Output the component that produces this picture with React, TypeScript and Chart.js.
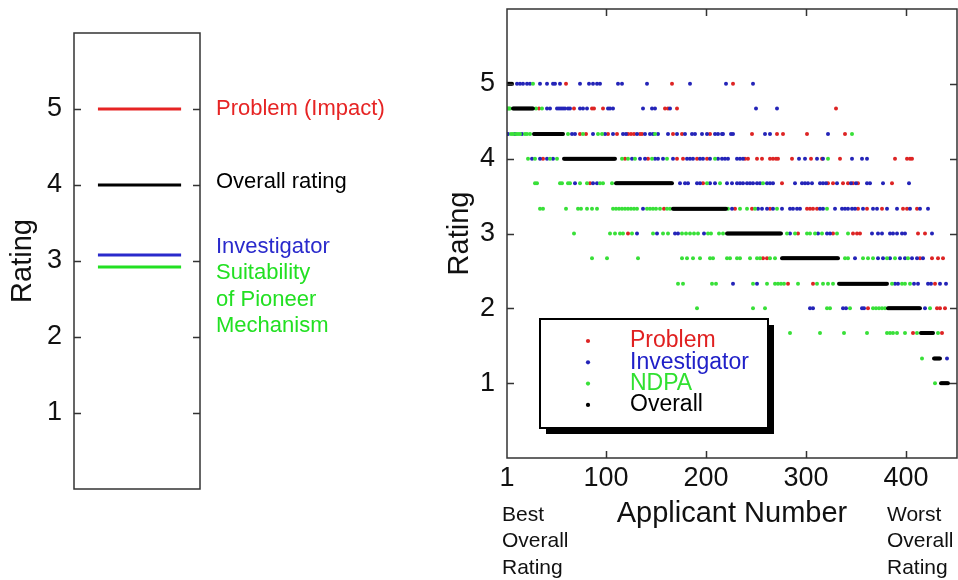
import React, { useEffect, useRef } from "react";
import { Chart, registerables } from "chart.js";

Chart.register(...registerables);

const FONT = "'Liberation Sans', Arial, Helvetica, sans-serif";

// ---------- Left panel: mean ratings ----------
const meanTextLines: string[][] = [
  ["Problem (Impact)"],
  ["Overall rating"],
  ["Investigator"],
  ["Suitability", "of Pioneer", "Mechanism"],
];
const meanRatings = [5, 4, 3.08, 2.92];
const meanColors = ["#e62424", "#000000", "#2a2acc", "#22e022"];
const meanLineStart = 0.19;
const meanLineEnd = 0.85;

// ---------- Right panel: ratings per applicant ----------
const yTicks = [1, 2, 3, 4, 5];
const xTicks = [1, 100, 200, 300, 400];
const ratingLevels = [5, 4.67, 4.33, 4, 3.67, 3.33, 3, 2.67, 2.33, 2, 1.67, 1.33, 1];
const seriesNames = ["Problem", "Investigator", "NDPA", "Overall"];
const seriesColors = ["#dd2424", "#2424b8", "#38e038", "#000000"];
const legendTextColors = ["#e02020", "#2020c8", "#30e030", "#000000"];

// number of applicants at each overall rating level (applicants sorted best to worst)
const overallCounts = [6, 21, 30, 52, 57, 54, 55, 57, 49, 33, 13, 7, 8];

// applicant numbers with a visible dot, per rating level (aligned with ratingLevels)
const problemApplicants: number[][] = [
  [60, 166, 227],
  [33, 68, 86, 88, 97, 159, 162, 171, 330],
  [74, 80, 102, 111, 122, 125, 128, 134, 136, 167, 176, 204, 246, 271, 277, 301, 339],
  [37, 119, 142, 171, 177, 191, 201, 239, 242, 251, 256, 264, 267, 270, 272, 286, 305, 316, 334, 389, 401, 404, 406],
  [84, 197, 276, 322, 327, 337, 342, 347, 352, 386],
  [158, 229, 246, 264, 301, 304, 307, 311, 352, 361, 376, 397, 401, 411],
  [122, 292, 327, 347, 351, 354, 412, 419],
  [257, 261, 414, 426, 432, 437],
  [282, 307, 429],
  [362, 431, 434, 439],
  [407, 436],
  [],
  [],
];

const investigatorApplicants: number[][] = [
  [11, 14, 17, 21, 24, 34, 41, 47, 49, 54, 74, 83, 87, 91, 94, 112, 116, 141, 184, 220, 247],
  [41, 44, 51, 53, 55, 57, 59, 62, 64, 74, 77, 81, 102, 104, 107, 137, 146, 149, 164, 250, 271],
  [1, 2, 9, 16, 66, 69, 87, 99, 107, 117, 120, 131, 139, 144, 147, 152, 162, 171, 179, 186, 189, 196, 201, 209, 212, 216, 217, 225, 227, 259, 264, 322],
  [26, 34, 41, 47, 126, 134, 139, 149, 152, 157, 167, 181, 184, 187, 194, 197, 204, 212, 216, 219, 222, 231, 234, 237, 293, 299, 311, 317, 346, 356, 361],
  [69, 87, 91, 174, 179, 182, 191, 194, 204, 209, 221, 226, 231, 234, 237, 241, 244, 247, 251, 254, 261, 264, 267, 289, 296, 299, 302, 306, 314, 317, 320, 331, 345, 350, 361, 364, 377, 403],
  [137, 226, 252, 256, 261, 267, 276, 284, 287, 291, 294, 314, 317, 329, 336, 339, 342, 346, 349, 357, 367, 371, 381, 391, 404, 414, 422],
  [131, 151, 169, 172, 198, 284, 312, 321, 324, 366, 372, 376, 384, 387, 391, 396, 399, 426],
  [349, 372, 377, 384, 394, 399, 406, 411, 417],
  [227, 251, 389, 392, 408, 412, 422, 425, 434, 440],
  [304, 307, 337, 340, 356, 358, 419],
  [],
  [441],
  [],
];

const ndpaApplicants: number[][] = [
  [27],
  [1, 2, 3, 4, 30, 36],
  [5, 7, 10, 12, 14, 19, 21, 24, 62, 77, 92, 96, 149, 346],
  [22, 29, 44, 51, 116, 122, 129, 146, 161, 209, 322],
  [29, 31, 54, 56, 62, 64, 74, 81, 94, 97, 106, 201, 214, 257],
  [34, 37, 60, 72, 75, 81, 86, 91, 107, 110, 113, 116, 119, 122, 125, 128, 131, 141, 144, 147, 150, 154, 161, 164, 222, 234, 241, 249, 271, 321],
  [68, 104, 109, 114, 117, 126, 147, 157, 162, 176, 180, 184, 188, 192, 202, 205, 213, 217, 281, 289, 301, 304, 309, 316, 331, 342],
  [86, 101, 132, 176, 181, 187, 194, 204, 207, 221, 224, 231, 234, 244, 251, 254, 264, 269, 339, 342, 357, 362, 367, 381, 389, 402],
  [172, 177, 206, 210, 247, 261, 269, 272, 275, 278, 292, 311, 317, 322, 327, 386, 396, 399, 404],
  [191, 247, 259, 321, 324, 344, 367, 370, 373, 376, 379, 424],
  [284, 314, 338, 361, 381, 384, 387, 391, 399, 411, 432],
  [416],
  [429],
];

const endNotes: string[][] = [
  ["Best", "Overall", "Rating"],
  ["Worst", "Overall", "Rating"],
];

function toPoints(rows: number[][]) {
  const pts: { x: number; y: number }[] = [];
  rows.forEach((apps, i) => apps.forEach((a) => pts.push({ x: a, y: ratingLevels[i] })));
  return pts;
}

function overallPoints() {
  const pts: { x: number; y: number }[] = [];
  let n = 1;
  overallCounts.forEach((c, i) => {
    for (let k = 0; k < c; k++) pts.push({ x: n++, y: ratingLevels[i] });
  });
  return pts;
}

function makeFramePlugin(withXTicks: boolean) {
  return {
    id: "frameTicks",
    afterDatasetsDraw(chart: any) {
      const { ctx, chartArea: a, scales } = chart;
      const L = 7;
      ctx.save();
      ctx.strokeStyle = "#333";
      ctx.lineWidth = 1.5;
      ctx.strokeRect(a.left, a.top, a.right - a.left, a.bottom - a.top);
      ctx.beginPath();
      scales.y.ticks.forEach((t: any) => {
        const py = Math.round(scales.y.getPixelForValue(t.value)) + 0.5;
        ctx.moveTo(a.left, py);
        ctx.lineTo(a.left + L, py);
        ctx.moveTo(a.right - L, py);
        ctx.lineTo(a.right, py);
      });
      if (withXTicks) {
        scales.x.ticks.forEach((t: any, i: number) => {
          if (i === 0) return;
          const px = Math.round(scales.x.getPixelForValue(t.value)) + 0.5;
          ctx.moveTo(px, a.top);
          ctx.lineTo(px, a.top + L);
          ctx.moveTo(px, a.bottom);
          ctx.lineTo(px, a.bottom - L);
        });
      }
      ctx.stroke();
      ctx.restore();
    },
  };
}

const meanTextPlugin = {
  id: "meanText",
  afterDatasetsDraw(chart: any) {
    const { ctx, chartArea, scales } = chart;
    const offsets = [0, -3, -8, 6];
    ctx.save();
    ctx.font = `22px ${FONT}`;
    ctx.textAlign = "left";
    ctx.textBaseline = "middle";
    const x = chartArea.right + 16;
    meanTextLines.forEach((lines, i) => {
      ctx.fillStyle = meanColors[i];
      const y0 = scales.y.getPixelForValue(meanRatings[i]) + offsets[i];
      lines.forEach((t, j) => ctx.fillText(t, x, y0 + j * 26.5));
    });
    ctx.restore();
  },
};

const endNotesPlugin = {
  id: "endNotes",
  afterDraw(chart: any) {
    const { ctx, chartArea: a } = chart;
    ctx.save();
    ctx.font = `21px ${FONT}`;
    ctx.fillStyle = "#111";
    ctx.textAlign = "left";
    ctx.textBaseline = "middle";
    const xs = [a.left - 5, a.left + 380];
    endNotes.forEach((lines, i) => {
      lines.forEach((t, j) => ctx.fillText(t, xs[i], a.bottom + 57 + j * 26.5));
    });
    ctx.restore();
  },
};

const boxLegendPlugin = {
  id: "boxLegend",
  afterDraw(chart: any) {
    const { ctx, chartArea: a } = chart;
    const bx = a.left + 33;
    const by = a.top + 310;
    const bw = 228;
    const bh = 109;
    ctx.save();
    ctx.fillStyle = "#000";
    ctx.fillRect(bx + 6, by + 6, bw, bh);
    ctx.fillStyle = "#fff";
    ctx.fillRect(bx, by, bw, bh);
    ctx.strokeStyle = "#000";
    ctx.lineWidth = 2;
    ctx.strokeRect(bx, by, bw, bh);
    ctx.font = `23px ${FONT}`;
    ctx.textAlign = "left";
    ctx.textBaseline = "middle";
    chart.data.datasets.forEach((ds: any, i: number) => {
      const y = by + 22 + i * 21.3;
      ctx.fillStyle = ds.backgroundColor;
      ctx.beginPath();
      ctx.arc(bx + 48, y, 2.1, 0, Math.PI * 2);
      ctx.fill();
      ctx.fillStyle = legendTextColors[i];
      ctx.fillText(ds.label, bx + 90, y);
    });
    ctx.restore();
  },
};

function noScalePadding(s: any) {
  s.paddingTop = 0;
  s.paddingBottom = 0;
  s.paddingLeft = 0;
  s.paddingRight = 0;
}

export default function App() {
  const leftRef = useRef<HTMLCanvasElement>(null);
  const rightRef = useRef<HTMLCanvasElement>(null);

  useEffect(() => {
    const left = new Chart(leftRef.current as HTMLCanvasElement, {
      type: "scatter",
      data: {
        datasets: meanRatings.map((r, i) => ({
          label: meanTextLines[i].join(" "),
          data: [
            { x: meanLineStart, y: r },
            { x: meanLineEnd, y: r },
          ],
          showLine: true,
          borderColor: meanColors[i],
          backgroundColor: meanColors[i],
          borderWidth: 3,
          pointRadius: 0,
        })),
      },
      options: {
        responsive: false,
        animation: false,
        devicePixelRatio: 1,
        layout: { autoPadding: false, padding: { left: 0, top: 33, right: 240, bottom: 91 } },
        plugins: { legend: { display: false }, tooltip: { enabled: false } },
        scales: {
          x: { type: "linear", min: 0, max: 1, display: false },
          y: {
            type: "linear",
            min: 0,
            max: 6,
            afterBuildTicks: (s: any) => {
              s.ticks = yTicks.map((v) => ({ value: v }));
            },
            afterFit: (s: any) => {
              s.width = 74;
              noScalePadding(s);
            },
            grid: { display: false, drawTicks: false },
            border: { display: false },
            ticks: { color: "#111", font: { family: FONT, size: 27 }, padding: 12 },
            title: {
              display: true,
              text: "Rating",
              color: "#111",
              font: { family: FONT, size: 29 },
              padding: { top: 6, bottom: 0 },
            },
          },
        },
      } as any,
      plugins: [makeFramePlugin(false), meanTextPlugin],
    });

    const seriesData = [
      toPoints(problemApplicants),
      toPoints(investigatorApplicants),
      toPoints(ndpaApplicants),
      overallPoints(),
    ];
    const drawOrder = [3, 2, 1, 0];

    const right = new Chart(rightRef.current as HTMLCanvasElement, {
      type: "scatter",
      data: {
        datasets: seriesNames.map((name, i) => ({
          label: name,
          data: seriesData[i],
          backgroundColor: seriesColors[i],
          borderWidth: 0,
          pointRadius: 2,
          order: drawOrder[i],
        })),
      },
      options: {
        responsive: false,
        animation: false,
        devicePixelRatio: 1,
        layout: { autoPadding: false, padding: { left: 0, top: 9, right: 1, bottom: 0 } },
        plugins: { legend: { display: false }, tooltip: { enabled: false } },
        scales: {
          x: {
            type: "linear",
            min: 1,
            max: 451,
            afterBuildTicks: (s: any) => {
              s.ticks = xTicks.map((v) => ({ value: v }));
            },
            afterFit: (s: any) => {
              s.height = 122;
              noScalePadding(s);
            },
            grid: { display: false, drawTicks: false },
            border: { display: false },
            ticks: {
              color: "#111",
              font: { family: FONT, size: 27 },
              padding: 4,
              autoSkip: false,
              maxRotation: 0,
            },
            title: {
              display: true,
              text: "Applicant Number",
              color: "#111",
              font: { family: FONT, size: 29 },
              padding: { top: 0, bottom: 49 },
            },
          },
          y: {
            type: "linear",
            min: 0,
            max: 6,
            afterBuildTicks: (s: any) => {
              s.ticks = yTicks.map((v) => ({ value: v }));
            },
            afterFit: (s: any) => {
              s.width = 67;
              noScalePadding(s);
            },
            grid: { display: false, drawTicks: false },
            border: { display: false },
            ticks: { color: "#111", font: { family: FONT, size: 27 }, padding: 12 },
            title: {
              display: true,
              text: "Rating",
              color: "#111",
              font: { family: FONT, size: 29 },
              padding: { top: 3, bottom: 0 },
            },
          },
        },
      } as any,
      plugins: [makeFramePlugin(true), endNotesPlugin, boxLegendPlugin],
    });

    return () => {
      left.destroy();
      right.destroy();
    };
  }, []);

  return (
    <div style={{ position: "absolute", left: 0, top: 0, width: 958, height: 580, background: "#fff" }}>
      <canvas
        ref={leftRef}
        width={440}
        height={580}
        style={{ position: "absolute", left: 0, top: 0, width: 440, height: 580 }}
      />
      <canvas
        ref={rightRef}
        width={518}
        height={580}
        style={{ position: "absolute", left: 440, top: 0, width: 518, height: 580 }}
      />
    </div>
  );
}
